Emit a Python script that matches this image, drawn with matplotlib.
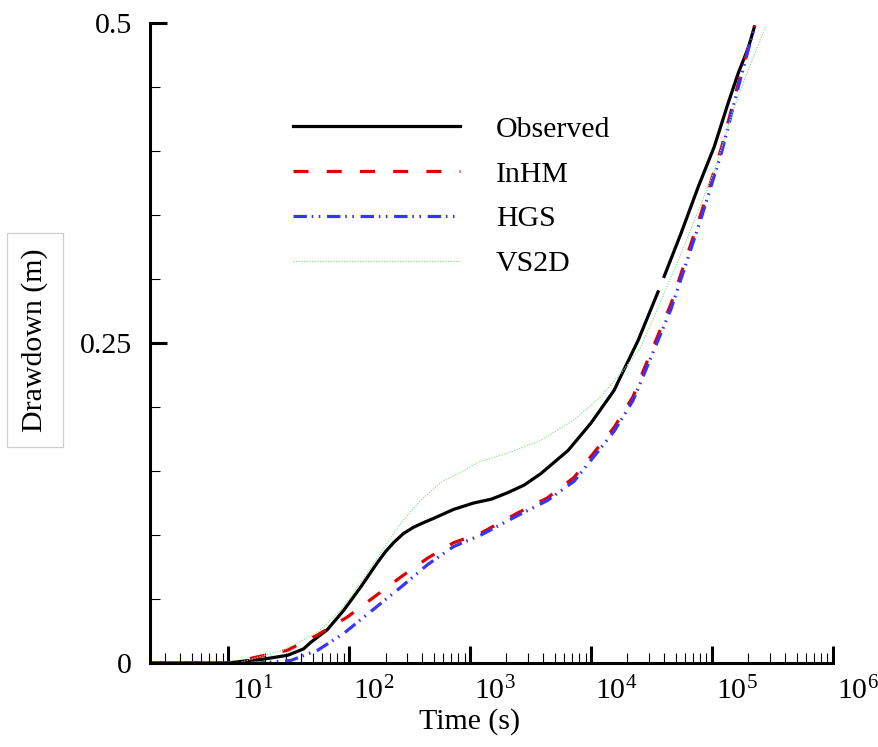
import numpy as np
import matplotlib
matplotlib.use('Agg')
from matplotlib import pyplot as plt
from matplotlib.ticker import FixedLocator, LogLocator, MultipleLocator, NullFormatter
import matplotlib.transforms as mtransforms

# drawdown curves
obs_t = [2.3, 10, 15, 19.5, 31, 42, 48, 66, 90, 124, 170, 200, 233, 280, 340, 420, 500, 731,
         1070, 1500, 2040, 2800, 3850, 6450, 1e4, 15500, 17000, 24500, 35800, 38000, 40200,
         55600, 76900, 104000, 136000, 165000, 200000, 224000]
obs_d = [0, 0, 0.002, 0.003, 0.006, 0.011, 0.016, 0.026, 0.041, 0.059, 0.078, 0.087, 0.094,
         0.101, 0.106, 0.110, 0.113, 0.12, 0.125, 0.128, 0.133, 0.139, 0.148, 0.166, 0.1875,
         0.213, 0.221, 0.252, 0.29, np.nan, 0.302, 0.336, 0.372, 0.403, 0.4375, 0.461, 0.481,
         0.497]

inhm_t = [2.3, 11, 16, 31, 55, 97, 158, 266, 447, 731, 1230, 2450, 4360, 7240, 10500,
          15500, 22200, 27500, 46000, 81600, 120000, 165000, 225000]
inhm_d = [0, 0, 0.004, 0.01, 0.022, 0.036, 0.051, 0.067, 0.082, 0.094, 0.1015, 0.117, 0.129,
          0.145, 0.164, 0.184, 0.208, 0.23, 0.281, 0.352, 0.403, 0.453, 0.498]

hgs_t = [2.3, 18, 33, 55, 90, 150, 266, 447, 731, 1230, 2450, 4360, 7240, 10500, 15500,
         22200, 27500, 46000, 81600, 120000, 165000, 225000]
hgs_d = [0, 0, 0.002, 0.01, 0.023, 0.040, 0.059, 0.077, 0.091, 0.100, 0.115, 0.127, 0.142,
         0.161, 0.181, 0.205, 0.226, 0.277, 0.348, 0.399, 0.450, 0.498]

vs2d_t = [2.3, 12, 28.5, 55, 85, 124, 182, 266, 390, 570, 835, 1180, 2040, 3850, 7240,
          12000, 18600, 25900, 55600, 105000, 150000, 198000, 280000]
vs2d_d = [0, 0, 0.01, 0.024, 0.041, 0.0625, 0.086, 0.109, 0.127, 0.141, 0.149, 0.157, 0.164,
          0.174, 0.19, 0.208, 0.229, 0.247, 0.32, 0.385, 0.432, 0.463, 0.498]

x_major = [1e1, 1e2, 1e3, 1e4, 1e5, 1e6]
x_labels = [r'$\mathregular{10^{%d}}$' % k for k in range(1, 7)]
y_major = [0, 0.25, 0.5]
y_labels = ['0', '0.25', '0.5']

plt.rcParams['font.family'] = ['Liberation Serif', 'DejaVu Serif']
plt.rcParams['mathtext.fontset'] = 'custom'
plt.rcParams['mathtext.rm'] = 'Liberation Serif'
plt.rcParams['font.size'] = 21.5

fig = plt.figure(figsize=(8.79, 7.47), dpi=100)
ax = fig.add_axes([150/879, 1-663/747, 683/879, 640/747])

ax.plot(obs_t, obs_d, color='black', lw=2.3, label='Observed')
ax.plot(inhm_t, inhm_d, color='#e00000', lw=2.3, dashes=(4.7, 5.7), label='InHM')
ax.plot(hgs_t, hgs_d, color='#3535ff', lw=2.3, dashes=(4.2, 1.5, 0.5, 1.7, 0.5, 2.1), label='HGS')
ax.plot(vs2d_t, vs2d_d, color='#8fe08f', lw=0.8, dashes=(1.2, 1.2), label='VS2D')

ax.set_xscale('log')
ax.set_xlim(2.26, 1e6)
ax.set_ylim(0, 0.5)

ax.xaxis.set_major_locator(FixedLocator(x_major))
ax.set_xticklabels(x_labels)
ax.xaxis.set_minor_locator(LogLocator(base=10, subs=np.arange(2, 10), numticks=20))
ax.xaxis.set_minor_formatter(NullFormatter())
ax.yaxis.set_major_locator(FixedLocator(y_major))
ax.set_yticklabels(y_labels)
ax.yaxis.set_minor_locator(MultipleLocator(0.05))

ax.tick_params(which='major', direction='in', length=12, width=2.2)
ax.tick_params(which='minor', direction='in', length=7, width=0.8)
ax.tick_params(axis='x', which='major', pad=10)
ax.tick_params(axis='y', which='major', pad=13)

shift = mtransforms.ScaledTranslation(4/100, 0, fig.dpi_scale_trans)
for lab in ax.get_xticklabels():
    lab.set_horizontalalignment('left')
    lab.set_transform(lab.get_transform() + shift)

for side in ['top', 'right']:
    ax.spines[side].set_visible(False)
for side in ['left', 'bottom']:
    ax.spines[side].set_linewidth(2.2)

ax.set_xlabel('Time (s)')
ax.xaxis.set_label_coords(0.4685, -0.071)

fig.text(35/879, 1-340/747, 'Drawdown (m)', rotation=90, ha='center', va='center',
         bbox=dict(boxstyle='square,pad=0.5', fc='white', ec='#cfcfcf', lw=0.9))

ax.legend(loc='upper left', bbox_to_anchor=(0.209, 0.855), frameon=False,
          borderpad=0, borderaxespad=0, handlelength=5.6, handletextpad=1.2,
          labelspacing=0.6)

plt.savefig('out.png', dpi=100)
plt.close()
